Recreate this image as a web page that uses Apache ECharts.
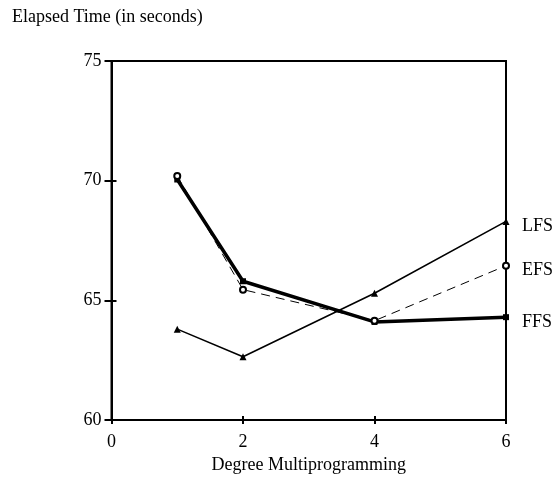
<!DOCTYPE html>
<html><head><meta charset="utf-8">
<script src="https://cdn.jsdelivr.net/npm/echarts@6/dist/echarts.min.js"></script>
<style>html,body{margin:0;padding:0;background:#fff}#c{width:558px;height:479px}</style>
</head><body><div id="c"></div>
<script>
const xValues = [1, 2, 4, 6];
const ffs = [70.05, 65.8, 64.1, 64.3];
const efs = [70.2, 65.45, 64.15, 66.45];
const lfs = [63.8, 62.65, 65.3, 68.3];
const xTicks = [0, 2, 4, 6];
const yTicks = [60, 65, 70, 75];
const F = 'Liberation Serif';
const chart = echarts.init(document.getElementById('c'));
const pair = a => xValues.map((x, i) => [x, a[i]]);
const lbl = (name) => ({show: true, formatter: name, distance: 16, offset: [0, 5], color: '#000', fontFamily: F, fontSize: 18});
chart.setOption({
  animation: false,
  title: {text: 'Elapsed Time (in seconds)', left: 7, top: 3, textStyle: {fontFamily: F, fontSize: 18, fontWeight: 'normal', color: '#000'}},
  grid: {left: 111.5, right: 52, top: 61, bottom: 49, show: true, borderColor: '#000', borderWidth: 2},
  xAxis: [
    {type: 'value', min: 0, max: 6, interval: 2, position: 'bottom',
     axisLine: {show: true, lineStyle: {color: '#000', width: 2}},
     axisTick: {show: true, length: 4, lineStyle: {color: '#000', width: 2}},
     axisLabel: {color: '#000', fontFamily: F, fontSize: 18, margin: 13},
     splitLine: {show: false},
     name: 'Degree Multiprogramming', nameLocation: 'middle', nameGap: 32,
     nameTextStyle: {color: '#000', fontFamily: F, fontSize: 18}},
    {type: 'value', min: 0, max: 6, interval: 2, position: 'bottom',
     axisLine: {show: false}, axisTick: {show: true, inside: true, length: 4, lineStyle: {color: '#000', width: 2}},
     axisLabel: {show: false}, splitLine: {show: false}}
  ],
  yAxis: [
    {type: 'value', min: 60, max: 75, interval: 5, position: 'left',
     axisLine: {show: true, lineStyle: {color: '#000', width: 2}},
     axisTick: {show: true, length: 7, lineStyle: {color: '#000', width: 2}},
     axisLabel: {color: '#000', fontFamily: F, fontSize: 18, margin: 10},
     splitLine: {show: false}},
    {type: 'value', min: 60, max: 75, interval: 5, position: 'right',
     axisLine: {show: true, lineStyle: {color: '#000', width: 2}},
     axisTick: {show: true, length: 5, lineStyle: {color: '#000', width: 2}},
     axisLabel: {show: false}, splitLine: {show: false}}
  ],
  series: [
    {name: 'FFS', type: 'line', data: pair(ffs), symbol: 'rect', symbolSize: 6,
     lineStyle: {color: '#000', width: 3.5}, itemStyle: {color: '#000'}, endLabel: lbl('FFS')},
    {name: 'EFS', type: 'line', data: pair(efs), symbol: 'emptyCircle', symbolSize: 6,
     lineStyle: {color: '#000', width: 1, type: [9, 6]}, itemStyle: {color: '#000', borderWidth: 1.5}, endLabel: lbl('EFS')},
    {name: 'LFS', type: 'line', data: pair(lfs), symbol: 'triangle', symbolSize: 7,
     lineStyle: {color: '#000', width: 1.6}, itemStyle: {color: '#000'}, endLabel: lbl('LFS')}
  ]
});
</script></body></html>
